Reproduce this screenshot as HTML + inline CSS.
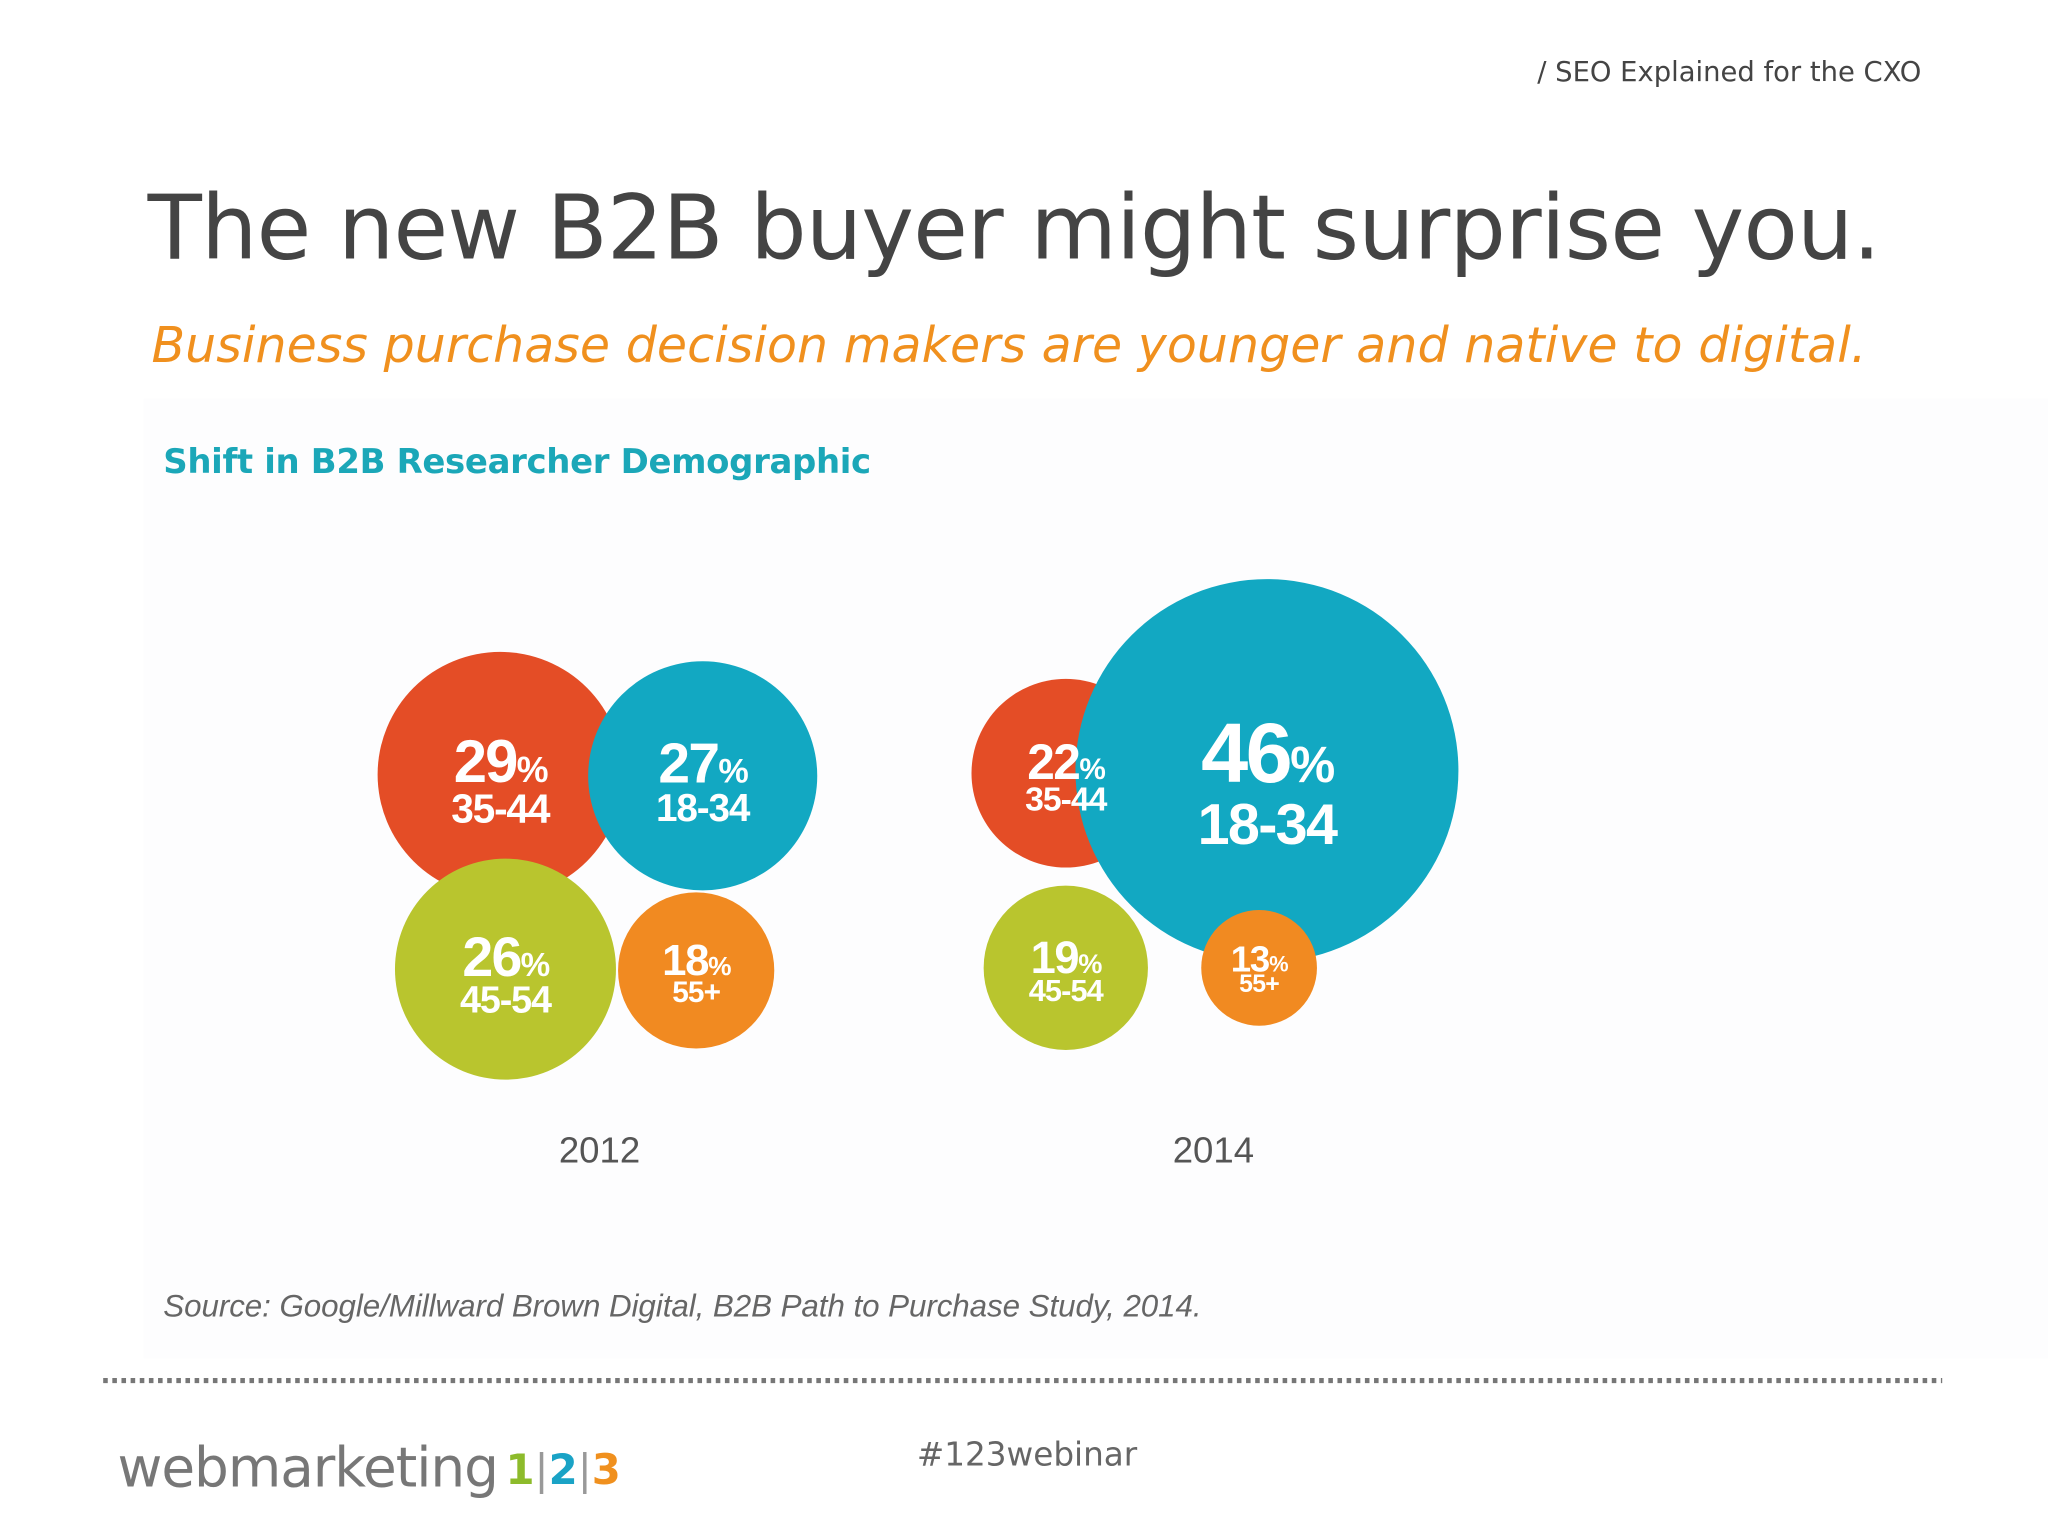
<!DOCTYPE html>
<html><head><meta charset="utf-8"><style>
html,body{margin:0;padding:0;background:#fff;}
svg{display:block;}
</style></head><body>
<svg id="slide" width="2048" height="1536" viewBox="0 0 1568 1176" xmlns="http://www.w3.org/2000/svg">
<rect x="0" y="0" width="1568" height="1176" fill="#ffffff"/>
<rect x="110" y="305" width="1458" height="735" fill="#fdfdfe"/>
<text x="1471" y="62" text-anchor="end" font-family="DejaVu Sans, sans-serif" font-size="21" fill="#444">/ SEO Explained for the CXO</text>
<text x="113" y="198" font-family="DejaVu Sans, sans-serif" font-size="68" fill="#444" textLength="1327">The new B2B buyer might surprise you.</text>
<text x="116" y="277" font-family="DejaVu Sans, sans-serif" font-style="italic" font-size="37.5" fill="#f0901e" textLength="1313">Business purchase decision makers are younger and native to digital.</text>
<text x="125" y="362" font-family="DejaVu Sans, sans-serif" font-weight="bold" font-size="26" fill="#1ba7b8" textLength="542">Shift in B2B Researcher Demographic</text>
<g id="bubbles"></g>
<text x="125" y="1008" font-family="Liberation Sans, sans-serif" font-style="italic" font-size="24" fill="#666" textLength="795">Source: Google/Millward Brown Digital, B2B Path to Purchase Study, 2014.</text>
<line x1="79" y1="1057" x2="1487" y2="1057" stroke="#777" stroke-width="4" stroke-dasharray="3.5,3.5"/>
<text x="90" y="1138" font-family="DejaVu Sans, sans-serif" font-size="42" fill="#777" textLength="292">webmarketing</text>
<text x="387" y="1136" font-family="DejaVu Sans, sans-serif" font-weight="bold" font-size="32"><tspan fill="#8dbb2b">1</tspan><tspan fill="#999" font-weight="normal">|</tspan><tspan fill="#1aa3c6">2</tspan><tspan fill="#999" font-weight="normal">|</tspan><tspan fill="#f0901e">3</tspan></text>
<text x="702" y="1122" font-family="DejaVu Sans, sans-serif" font-size="25" fill="#666">#123webinar</text>
</svg>
<script>
const years = ['2012','2014'];
const groups = ['35-44','18-34','45-54','55+'];
const values2012 = [29,27,26,18];
const values2014 = [22,46,19,13];
const colors = ['#e44d26','#12a8c2','#b9c52e','#f18a21'];
const NS='http://www.w3.org/2000/svg';
const g=document.getElementById('bubbles');
function rScale(v){return 3.1*v+4;}
const layouts=[
 {cx:[383,538,387,533],cy:[593,594,742,743],label:459},
 {cx:[816,970,816,964],cy:[592,590,741,741],label:929}
];
[values2012,values2014].forEach((vals,yi)=>{
  const L=layouts[yi];
  vals.forEach((v,i)=>{
    const r=rScale(v);
    const c=document.createElementNS(NS,'circle');
    c.setAttribute('cx',L.cx[i]);c.setAttribute('cy',L.cy[i]);c.setAttribute('r',r);
    c.setAttribute('fill',colors[i]);
    
    
    g.appendChild(c);
  });
  vals.forEach((v,i)=>{
    const r=rScale(v);
    const fs=0.36*r+12;
    const t=document.createElementNS(NS,'text');
    t.setAttribute('x',L.cx[i]);t.setAttribute('y',L.cy[i]+0.06*r);
    t.setAttribute('text-anchor','middle');t.setAttribute('font-family','Liberation Sans, sans-serif');
    t.setAttribute('font-weight','bold');t.setAttribute('font-size',fs);t.setAttribute('fill','#fff');
    t.setAttribute('letter-spacing',-fs*0.03);
    t.innerHTML=v+'<tspan font-size="'+(fs*0.6)+'">%</tspan>';
    
    
    g.appendChild(t);
    const t2=document.createElementNS(NS,'text');
    t2.setAttribute('x',L.cx[i]);t2.setAttribute('y',L.cy[i]+0.37*r+2);
    t2.setAttribute('text-anchor','middle');t2.setAttribute('font-family','Liberation Sans, sans-serif');
    t2.setAttribute('font-weight','bold');t2.setAttribute('font-size',fs*0.68);t2.setAttribute('fill','#fff');
    t2.setAttribute('letter-spacing',-fs*0.02);
    t2.textContent=groups[i];
    
    
    g.appendChild(t2);
  });
  const yl=document.createElementNS(NS,'text');
  yl.setAttribute('x',L.label);yl.setAttribute('y',890);yl.setAttribute('text-anchor','middle');
  yl.setAttribute('font-family','Liberation Sans, sans-serif');yl.setAttribute('font-size','28');yl.setAttribute('fill','#555');
  yl.textContent=years[yi];
  
  
  g.appendChild(yl);
});
</script>
</body></html>
